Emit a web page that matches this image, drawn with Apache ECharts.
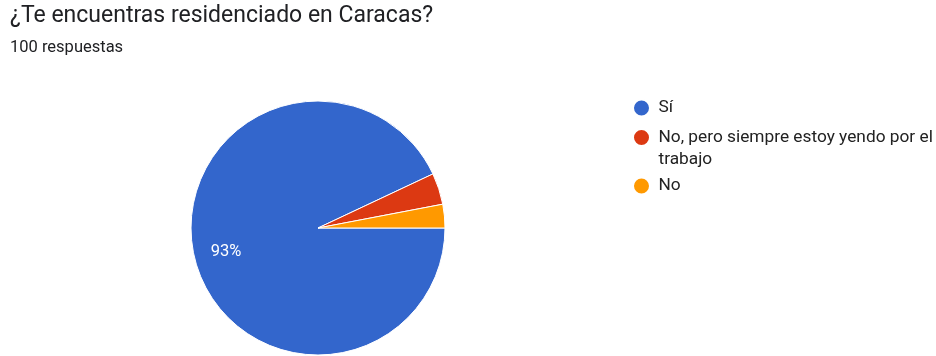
<!DOCTYPE html>
<html>
<head>
<meta charset="utf-8">
<title>¿Te encuentras residenciado en Caracas?</title>
<script src="https://cdn.jsdelivr.net/npm/echarts@6/dist/echarts.min.js"></script>
<style>
  html, body { margin: 0; padding: 0; background: #fff; }
  #chart { width: 936px; height: 356px; }
</style>
</head>
<body>
<div id="chart"></div>
<script>
var categories = ['Sí', 'No, pero siempre estoy yendo por el trabajo', 'No'];
var values = [93, 4, 3];
var colors = ['#3366CC', '#DC3912', '#FF9900'];

var chart = echarts.init(document.getElementById('chart'));

// one legend per entry so the dot lines up with the first text line
var legendTops = [97, 104.5, 175];
var legends = categories.map(function (name, i) {
  return {
    data: [name],
    orient: 'vertical',
    left: 632,
    top: legendTops[i],
    padding: 0,
    icon: 'circle',
    symbolKeepAspect: true,
    itemWidth: 24,
    itemHeight: 17,
    itemGap: 0,
    selectedMode: false,
    formatter: function (n) {
      // leading empty line keeps the dot level with the first line
      return i === 1 ? '\n' + n : n;
    },
    textStyle: {
      fontFamily: 'Roboto',
      fontSize: 17.3,
      color: '#222222',
      lineHeight: 22,
      width: 282,
      overflow: 'break'
    }
  };
});

var option = {
  animation: false,
  title: [
    {
      text: '¿Te encuentras residenciado en Caracas?',
      left: 10,
      top: 5,
      padding: 0,
      textStyle: { fontFamily: 'Roboto', fontSize: 23, fontWeight: 'normal', color: '#202124' }
    },
    {
      text: '100 respuestas',
      left: 10,
      top: 39,
      padding: 0,
      textStyle: { fontFamily: 'Roboto', fontSize: 16.5, fontWeight: 'normal', color: '#202124' }
    }
  ],
  legend: legends,
  series: [
    {
      type: 'pie',
      center: [318, 228],
      radius: 127,
      startAngle: 0,
      clockwise: true,
      silent: true,
      itemStyle: { borderColor: '#ffffff', borderWidth: 1 },
      label: {
        show: true,
        position: 'inside',
        formatter: '{d}%',
        fontFamily: 'Roboto',
        fontSize: 16.5,
        color: '#ffffff',
        offset: [-27, 9]
      },
      labelLine: { show: false },
      data: categories.map(function (name, i) {
        return {
          name: name,
          value: values[i],
          itemStyle: { color: colors[i] },
          label: { show: i === 0 }
        };
      })
    }
  ]
};

chart.setOption(option);
</script>
</body>
</html>
